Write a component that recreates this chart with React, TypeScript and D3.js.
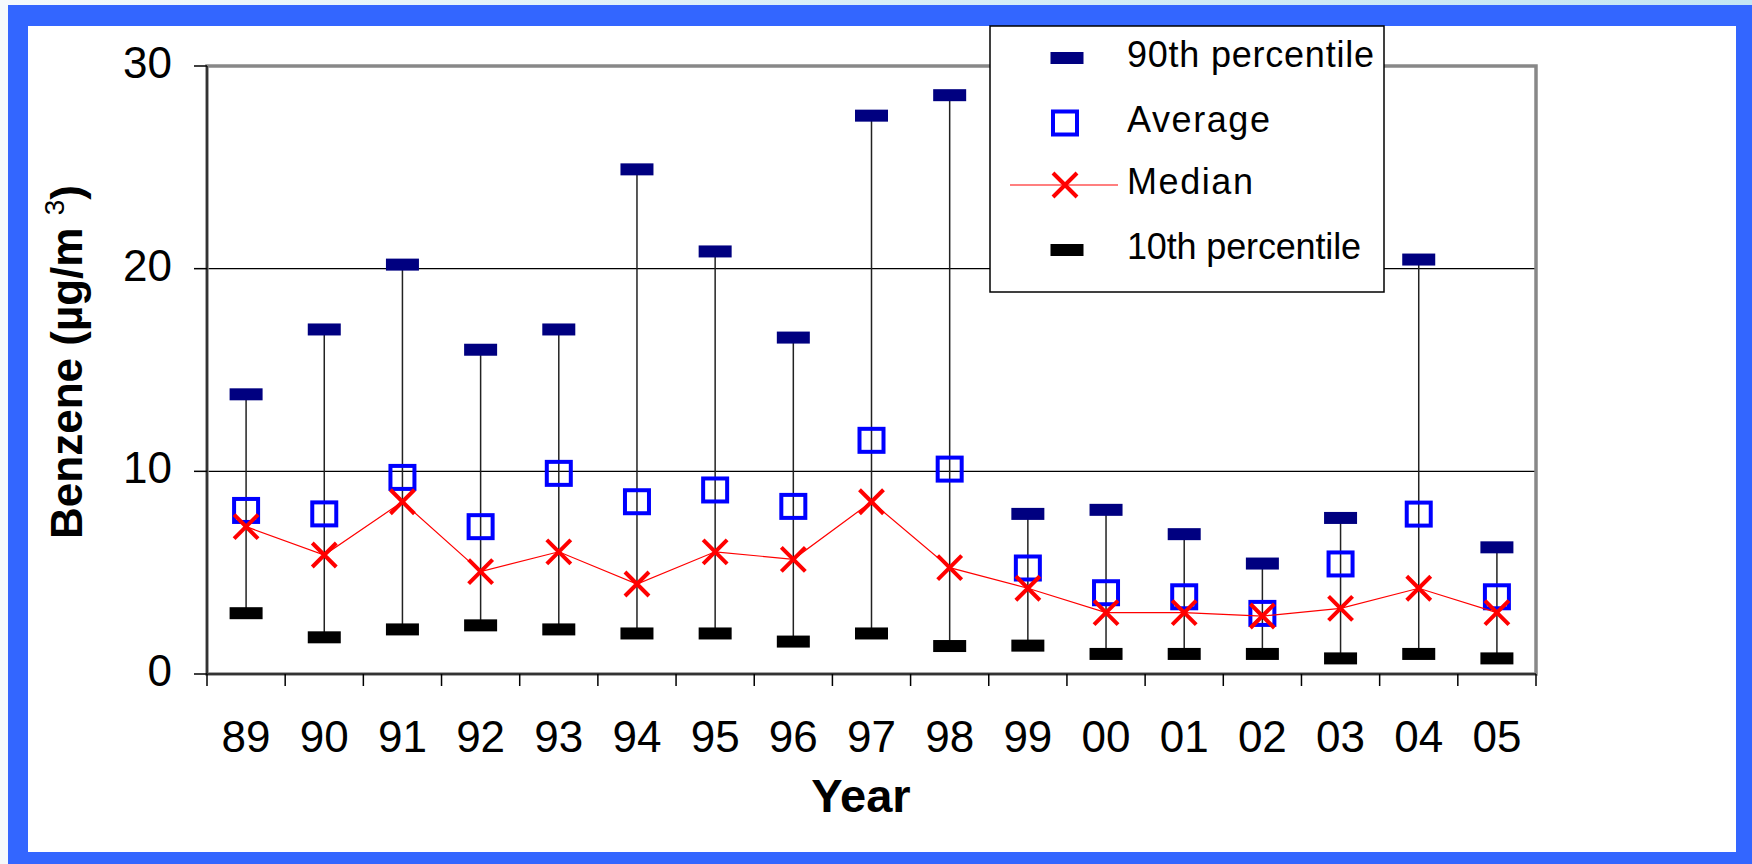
import React from "react";
import * as d3 from "d3";

const years = ["89","90","91","92","93","94","95","96","97","98","99","00","01","02","03","04","05"];
const p90 = [13.8, 17.0, 20.2, 16.0, 17.0, 24.9, 20.85, 16.6, 27.55, 28.56, 7.9, 8.1, 6.9, 5.45, 7.7, 20.45, 6.25];
const avg = [8.07, 7.9, 9.7, 7.27, 9.9, 8.5, 9.08, 8.27, 11.53, 10.11, 5.23, 4.01, 3.81, 2.99, 5.43, 7.89, 3.81];
const median = [7.27, 5.87, 8.5, 5.05, 6.03, 4.44, 6.03, 5.66, 8.5, 5.25, 4.23, 3.03, 3.03, 2.86, 3.24, 4.23, 3.03];
const p10 = [3.0, 1.81, 2.2, 2.4, 2.2, 2.0, 2.0, 1.6, 2.0, 1.38, 1.4, 0.99, 0.99, 0.99, 0.77, 0.99, 0.77];
const yTicks = [0, 10, 20, 30];
const legendItems = ["90th percentile", "Average", "Median", "10th percentile"];
const legendWidths = [247, 143, 126, 234];

const W = 1752, H = 864;
const L = 207, R = 1536, T = 66, B = 674;
const FONT = "'Liberation Sans', Arial, Helvetica, sans-serif";

export default function App() {
  const x = d3.scaleBand<string>().domain(years).range([L, R]).padding(0);
  const y = d3.scaleLinear().domain([0, 30]).range([B, T]);
  const cx = (i: number) => (x(years[i]) as number) + x.bandwidth() / 2;
  const line = d3.line<number>().x((_, i) => cx(i)).y((d) => y(d));
  const boundaries = years.map((d) => x(d) as number).concat([R]);

  const dash = (key: string, px: number, py: number, fill: string) => (
    <rect key={key} x={px - 16.5} y={py - 6} width={33} height={12} fill={fill} />
  );
  const square = (key: string, px: number, py: number) => (
    <rect key={key} x={px - 12} y={py - 11.5} width={24} height={23} fill="none" stroke="#0000FF" strokeWidth={4} />
  );
  const cross = (key: string, px: number, py: number) => (
    <path key={key} d={`M${px - 12},${py - 12}L${px + 12},${py + 12}M${px + 12},${py - 12}L${px - 12},${py + 12}`}
      stroke="#FF0000" strokeWidth={4} fill="none" />
  );

  const legX = 1067;
  const legRows = [58, 123, 185, 250];

  return (
    <svg width={W} height={H} style={{ position: "absolute", left: 0, top: 0 }} fontFamily={FONT}>
      <defs>
        <linearGradient id="bg" x1="0" y1="0" x2="1" y2="0">
          <stop offset="0" stopColor="#f4f9fc" />
          <stop offset="0.5" stopColor="#d8eef8" />
          <stop offset="1" stopColor="#c4e6f4" />
        </linearGradient>
      </defs>
      <rect x={0} y={0} width={W} height={H} fill="url(#bg)" />
      <rect x={8} y={5} width={W - 8} height={H - 5} fill="#3366FF" />
      <rect x={28} y={26} width={1736 - 28} height={852 - 26} fill="#FFFFFF" />

      {/* gridlines */}
      {yTicks.filter((t) => t > 0 && t < 30).map((t) => (
        <line key={"g" + t} x1={L} x2={R} y1={y(t)} y2={y(t)} stroke="#000" strokeWidth={1.2} />
      ))}

      {/* plot border */}
      <rect x={L} y={T} width={R - L} height={B - T} fill="none" stroke="#888" strokeWidth={3.5} />
      <line x1={L} x2={L} y1={T} y2={B} stroke="#333" strokeWidth={2} />
      <line x1={L} x2={R} y1={B} y2={B} stroke="#333" strokeWidth={2} />

      {/* y ticks and labels */}
      {yTicks.map((t) => (
        <g key={"yt" + t}>
          <line x1={L - 13} x2={L} y1={y(t)} y2={y(t)} stroke="#000" strokeWidth={1.5} />
          <text x={172} y={y(t) + 12} textAnchor="end" fontSize={44} fill="#000">{t}</text>
        </g>
      ))}

      {/* x ticks and labels */}
      {boundaries.map((bx, i) => (
        <line key={"xt" + i} x1={bx} x2={bx} y1={B} y2={B + 12} stroke="#000" strokeWidth={1.5} />
      ))}
      {years.map((yr, i) => (
        <text key={"xl" + yr} x={cx(i)} y={752} textAnchor="middle" fontSize={44} fill="#000">{yr}</text>
      ))}

      {/* axis titles */}
      <text x={861} y={812} textAnchor="middle" fontSize={47} fontWeight="bold" fill="#000">Year</text>
      <text transform={`translate(82,362) rotate(-90)`} textAnchor="middle" fontSize={44} fontWeight="bold" fill="#000">
        Benzene (µg/m <tspan fontSize={28} fontWeight="normal" dy={-18}>3</tspan><tspan dy={18}>)</tspan>
      </text>

      {/* error bars */}
      {years.map((yr, i) => (
        <line key={"eb" + yr} x1={cx(i)} x2={cx(i)} y1={y(p10[i])} y2={y(p90[i])} stroke="#222" strokeWidth={1.5} />
      ))}
      {p10.map((v, i) => dash("p10" + i, cx(i), y(v), "#000000"))}
      {p90.map((v, i) => dash("p90" + i, cx(i), y(v), "#000080"))}
      {avg.map((v, i) => square("avg" + i, cx(i), y(v)))}
      <path d={line(median) || ""} fill="none" stroke="#FF0000" strokeWidth={1.2} />
      {median.map((v, i) => cross("md" + i, cx(i), y(v)))}

      {/* legend */}
      <rect x={990} y={26} width={394} height={266} fill="#FFFFFF" stroke="#000" strokeWidth={1.5} />
      {dash("lg0", legX, legRows[0], "#000080")}
      {square("lg1", legX - 2, legRows[1])}
      <line x1={1010} x2={1118} y1={legRows[2]} y2={legRows[2]} stroke="#FF0000" strokeWidth={1.2} />
      {cross("lg2", legX - 2, legRows[2])}
      {dash("lg3", legX, legRows[3], "#000000")}
      {legendItems.map((t, i) => (
        <text key={"lt" + i} x={1127} y={legRows[i] + 9} fontSize={36} fill="#000"
          textLength={legendWidths[i]} lengthAdjust="spacing">{t}</text>
      ))}
    </svg>
  );
}
